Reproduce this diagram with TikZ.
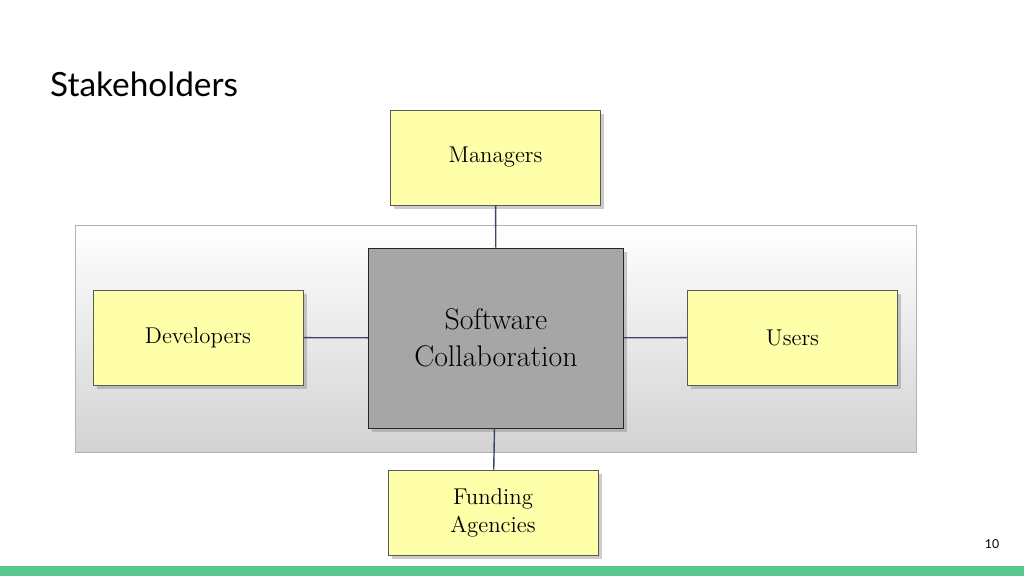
\documentclass[tikz,border=0pt]{standalone}
\usepackage{fontspec}
\newfontfamily\titlefont{Lato}
\usetikzlibrary{positioning, shadows}
\definecolor{boxyellow}{HTML}{FFFFAA}
\definecolor{linkblue}{HTML}{3B4868}
\definecolor{bargreen}{HTML}{57C88C}
\tikzset{
party/.style={draw=gray!70!black, fill=boxyellow, minimum width=4.2cm, minimum height=1.9cm, align=center, font=\fontsize{13}{16}\selectfont, drop shadow={opacity=0.4}}, % stakeholder boxes
link/.style={draw=linkblue, thick}, % connectors
}
\begin{document}
\begin{tikzpicture}[x=0.02cm, y=-0.02cm]
            \useasboundingbox (0,0) rectangle (1024,576);
            \fill[bargreen] (0,566) rectangle (1024,576);
            \node[anchor=west, font=\titlefont\fontsize{19}{22}\selectfont] (title) at (44,84) {Stakeholders};
            \node[font=\titlefont\fontsize{7}{8}\selectfont] (page) at (992,544) {10};
            \shade[top color=white, bottom color=gray!35, draw=gray!60] (75,225) rectangle (916,452);
            \node[party] (mgr) at (495.5,157.5) {Managers};
            \node[party, minimum height=1.7cm] (fund) at (493,512.5) {Funding\\Agencies};
            \node[party] (dev) at (198,337.5) {Developers};
            \node[party] (usr) at (792.5,337.5) {Users};
            \node[draw=gray!30!black, fill=gray!70, minimum width=5.1cm, minimum height=3.6cm, align=center, font=\fontsize{17}{21}\selectfont, drop shadow={opacity=0.4}] (sw) at (496,338) {Software\\Collaboration};
            \draw[link] (mgr) -- (sw);
            \draw[link] (sw) -- (fund);
            \draw[link] (dev) -- (sw);
            \draw[link] (sw) -- (usr);
\end{tikzpicture}
\end{document}
